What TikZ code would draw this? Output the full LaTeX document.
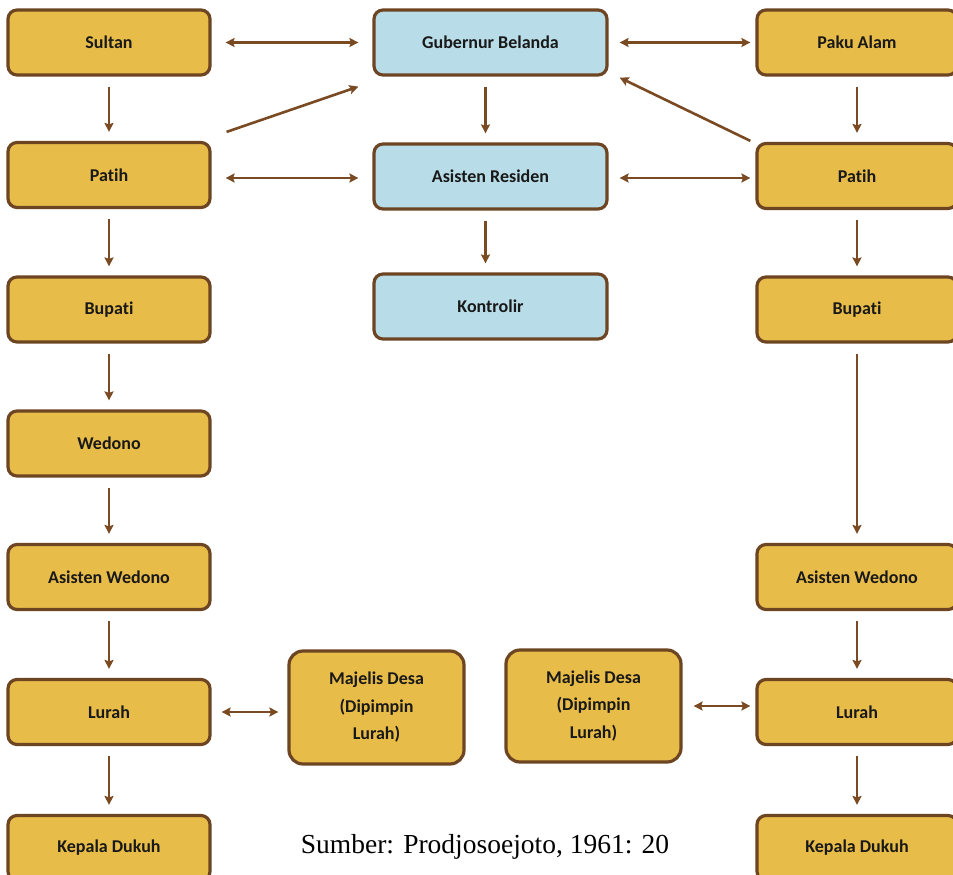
\documentclass[tikz,border=0pt]{standalone}
\usepackage{fontspec}
\setmainfont{Carlito}[Ligatures=NoCommon]
\newfontfamily\capfont{Liberation Serif}
\usetikzlibrary{arrows.meta}
\definecolor{gold}{HTML}{E8BC48}
\definecolor{sky}{HTML}{B8DDE8}
\definecolor{edge}{HTML}{6E4522}
\definecolor{arr}{HTML}{7A4A22}
\tikzset{
  box/.style={draw=edge, line width=3.2pt, rounded corners=9pt, minimum width=202pt, minimum height=65pt, align=center, font=\fontsize{18}{22}\selectfont\bfseries, text=black!90, inner sep=0pt},
  gbox/.style={box, fill=gold},
  bbox/.style={box, fill=sky, minimum width=233pt},
  link/.style={draw=arr, line width=2.6pt, -{Stealth[length=9pt,width=9pt,inset=1.5pt]}},
  blink/.style={link, {Stealth[length=9pt,width=9pt,inset=1.5pt]}-{Stealth[length=9pt,width=9pt,inset=1.5pt]}},
  vs/.style={shorten <=10pt, shorten >=9pt},
  hs/.style={shorten <=14pt, shorten >=14pt}
}
\begin{document}
\begin{tikzpicture}[x=1pt,y=-1pt]
\clip (0,0) rectangle (953,875);
\fill[white] (0,0) rectangle (953,875);
% left column
\node[gbox] (sultan) at (109,42.5) {Sultan};
\node[gbox] (patihL) at (109,175) {Patih};
\node[gbox] (bupatiL) at (109,309.5) {Bupati};
\node[gbox] (wedono) at (109,443.5) {Wedono};
\node[gbox] (awL) at (109,577) {Asisten Wedono};
\node[gbox] (lurahL) at (109,712) {Lurah};
\node[gbox] (kdL) at (109,848) {Kepala Dukuh};
% center column
\node[bbox] (gub) at (490.5,42.5) {Gubernur Belanda};
\node[bbox] (ar) at (490.5,176.5) {Asisten Residen};
\node[bbox] (kon) at (490.5,306.5) {Kontrolir};
% right column
\node[gbox, minimum width=200pt] (paku) at (857,42.5) {Paku Alam};
\node[gbox, minimum width=200pt] (patihR) at (857,176) {Patih};
\node[gbox, minimum width=200pt] (bupatiR) at (857,309.5) {Bupati};
\node[gbox, minimum width=200pt] (awR) at (857,577) {Asisten Wedono};
\node[gbox, minimum width=200pt] (lurahR) at (857,712) {Lurah};
\node[gbox, minimum width=200pt] (kdR) at (857,848) {Kepala Dukuh};
% majelis
\node[gbox, minimum width=175pt, minimum height=113pt, rounded corners=14pt, font=\fontsize{18}{27.5}\selectfont\bfseries] (majL) at (376.5,707.5) {Majelis Desa\\(Dipimpin\\Lurah)};
\node[gbox, minimum width=175pt, minimum height=112pt, rounded corners=14pt, font=\fontsize{18}{27.5}\selectfont\bfseries] (majR) at (593.5,706) {Majelis Desa\\(Dipimpin\\Lurah)};
% caption
\node[font=\capfont\fontsize{27.5}{30}\selectfont, text=black] (cap) at (485,847) {Sumber: Prodjosoejoto, 1961: 20};
% left vertical arrows
\draw[link,vs] (sultan) -- (patihL);
\draw[link,vs] (patihL) -- (bupatiL);
\draw[link,vs] (bupatiL) -- (wedono);
\draw[link,vs] (wedono) -- (awL);
\draw[link,vs] (awL) -- (lurahL);
\draw[link,vs] (lurahL) -- (kdL);
% right vertical arrows
\draw[link,vs] (paku) -- (patihR);
\draw[link,vs] (patihR) -- (bupatiR);
\draw[link,vs] (bupatiR) -- (awR);
\draw[link,vs] (awR) -- (lurahR);
\draw[link,vs] (lurahR) -- (kdR);
% center vertical
\draw[link,vs] ([xshift=-5pt]gub.south) -- ([xshift=-5pt]ar.north);
\draw[link,vs] ([xshift=-5pt]ar.south) -- ([xshift=-5pt]kon.north);
% horizontal double arrows
\draw[blink,hs] (sultan) -- (gub);
\draw[blink,shorten <=11pt, shorten >=5pt] (gub) -- (paku);
\draw[blink,hs] ([shift={(0,3)}]patihL.east) -- ([shift={(0,1.5)}]ar.west);
\draw[blink,shorten <=11pt, shorten >=5pt] ([shift={(0,1.5)}]ar.east) -- ([shift={(0,2)}]patihR.west);
\draw[blink,shorten <=10pt, shorten >=9pt] (lurahL) -- (lurahL -| majL.west);
\draw[blink,shorten <=11pt, shorten >=5pt] (majR.east) -- (majR.east -| lurahR.west);
% diagonals
\draw[link] ([shift={(15,-9)}]patihL.north east) -- ([shift={(-14,10)}]gub.south west);
\draw[link] ([shift={(-5,-1)}]patihR.north west) -- ([shift={(11,1)}]gub.south east);
\end{tikzpicture}
\end{document}
